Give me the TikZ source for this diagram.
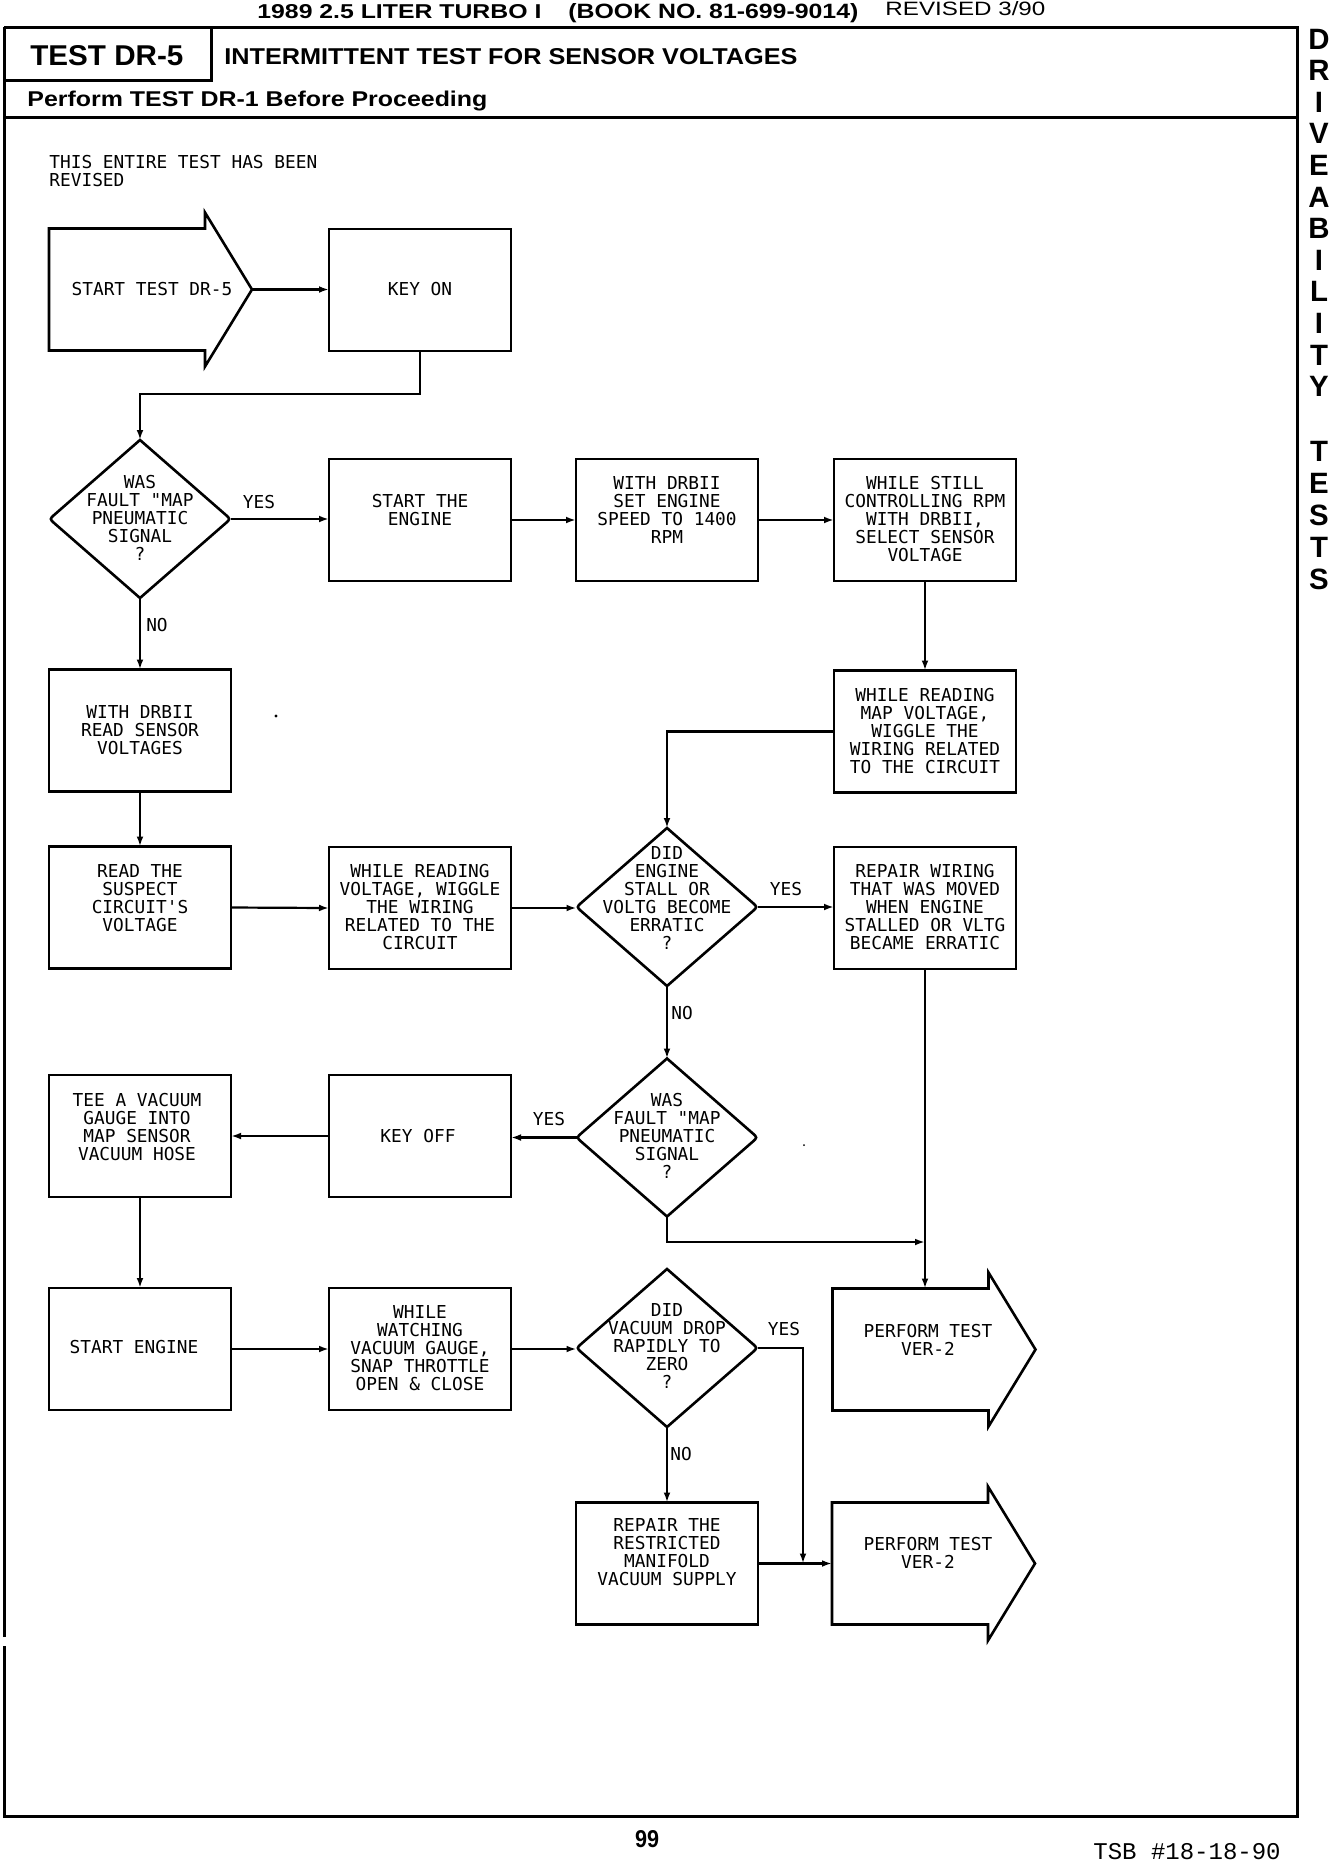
\documentclass[tikz,border=0pt]{standalone}
\usepackage{fontspec}
\usepackage{graphicx}
\usetikzlibrary{arrows.meta,calc,shapes.geometric}
\newfontfamily\plotfont{DejaVu Sans Mono}
\newfontfamily\helfont{Liberation Sans}
\newfontfamily\courfont{Liberation Mono}
\newlength\pxu \setlength\pxu{0.5pt}
\newcommand\diaborder[1]{\draw[boxline] (#1.north) -- ($(#1.east)!0.06!(#1.north)$) .. controls (#1.east) .. ($(#1.east)!0.06!(#1.south)$) -- (#1.south) -- ($(#1.west)!0.06!(#1.south)$) .. controls (#1.west) .. ($(#1.west)!0.06!(#1.north)$) -- cycle;}
\newcommand\arrowborder[1]{\draw[boxline] (#1.south west) -- (#1.north west) -- (#1.north east) -- ++(0,-16) -- ($(#1.east)+(47,0)$) -- ($(#1.south east)+(0,16)$) -- (#1.south east) -- cycle;}
\begin{document}
\begin{tikzpicture}[x=0.5pt,y=-0.5pt,
  boxline/.style={line width=1.3pt, line join=miter},
  fbox/.style={draw, boxline, minimum width=91pt, minimum height=61pt, inner sep=0pt, outer sep=0pt},
  abody/.style={minimum width=78pt, minimum height=61pt, inner sep=0pt, outer sep=0pt},
  dia/.style={diamond, minimum width=90.5pt, minimum height=79pt, inner sep=0pt, outer sep=0pt},
  txt/.style={font=\plotfont\fontsize{8.9}{9}\selectfont, align=center, inner sep=0pt},
  conn/.style={line width=1.1pt, -{Latex[length=5pt,width=3.4pt]}},
  frame/.style={line width=1.5pt},
  side/.style={font=\helfont\bfseries\fontsize{14.7}{15}\selectfont, inner sep=0pt, anchor=center}]
\useasboundingbox (0,0) rectangle (1344,1864);
\fill[white] (0,0) rectangle (1344,1864);

% ---------- frame and header ----------
\draw[frame] (4,27) -- (1297,27) -- (1297,1816) -- (4,1816) -- (4,1646);
\draw[frame] (4,1637) -- (4,27);
\draw[frame] (211,27) -- (211,80) -- (4,80);
\draw[frame] (4,117) -- (1297,117);

\node[anchor=base west, inner sep=0pt] (h1) at (257,18) {\resizebox{284\pxu}{14\pxu}{\helfont\bfseries 1989 2.5 LITER TURBO I}};
\node[anchor=base west, inner sep=0pt] (h2) at (568,18) {\resizebox{290\pxu}{15\pxu}{\helfont\bfseries (BOOK NO. 81-699-9014)}};
\node[anchor=base west, inner sep=0pt] (h3) at (885,15) {\resizebox{160\pxu}{14\pxu}{\helfont REVISED 3/90}};
\node[anchor=base west, inner sep=0pt] (title) at (30,65) {\resizebox{153\pxu}{20\pxu}{\helfont\bfseries TEST DR-5}};
\node[anchor=base west, inner sep=0pt] (subtitle) at (224,64) {\resizebox{573\pxu}{16\pxu}{\helfont\bfseries INTERMITTENT TEST FOR SENSOR VOLTAGES}};
\node[anchor=base west, inner sep=0pt] (perform) at (27,106) {\resizebox{460\pxu}{15.5\pxu}{\helfont\bfseries Perform TEST DR-1 Before Proceeding}};

\foreach \l [count=\i from 0] in {D,R,I,V,E,A,B,I,L,I,T,Y}
  \node[side] (s\i) at (1319,39+31.6*\i) {\l};
\foreach \l [count=\i from 0] in {T,E,S,T,S}
  \node[side] (t\i) at (1319,451+32.2*\i) {\l};

\node[txt, anchor=west, align=left] (note) at (49,171) {THIS ENTIRE TEST HAS BEEN\\REVISED};

% ---------- nodes ----------
\node[abody] (start) at (127,289.5) {};
\coordinate (starttip) at ($(start.east)+(47,0)$);
\arrowborder{start}
\node[txt] (tstart) at (152,289) {START TEST DR-5};

\node[fbox] (keyon) at (420,290) {};
\node[txt] (tkeyon) at (420,289) {KEY ON};

\node[dia] (d1) at (140,519) {};
\diaborder{d1}
\node[txt] (td1) at (140,518) {WAS\\FAULT "MAP\\PNEUMATIC\\SIGNAL\\?};

\node[fbox] (eng) at (420,520) {};
\node[txt] (teng) at (420,510.5) {START THE\\ENGINE};

\node[fbox] (drb) at (667,520) {};
\node[txt] (tdrb) at (667,510) {WITH DRBII\\SET ENGINE\\SPEED TO 1400\\RPM};

\node[fbox] (still) at (925,520) {};
\node[txt] (tstill) at (925,519) {WHILE STILL\\CONTROLLING RPM\\WITH DRBII,\\SELECT SENSOR\\VOLTAGE};

\node[fbox] (readmap) at (925,731.5) {};
\node[txt] (treadmap) at (925,731) {WHILE READING\\MAP VOLTAGE,\\WIGGLE THE\\WIRING RELATED\\TO THE CIRCUIT};

\node[fbox] (readsens) at (140,730.5) {};
\node[txt] (treadsens) at (140,730) {WITH DRBII\\READ SENSOR\\VOLTAGES};

\node[fbox] (readsusp) at (140,907.5) {};
\node[txt] (treadsusp) at (140,898.5) {READ THE\\SUSPECT\\CIRCUIT'S\\VOLTAGE};

\node[fbox] (wiggle) at (420,908) {};
\node[txt] (twiggle) at (420,907) {WHILE READING\\VOLTAGE, WIGGLE\\THE WIRING\\RELATED TO THE\\CIRCUIT};

\node[dia] (d2) at (667,907) {};
\diaborder{d2}
\node[txt] (td2) at (667,897.5) {DID\\ENGINE\\STALL OR\\VOLTG BECOME\\ERRATIC\\?};

\node[fbox] (repair) at (925,908) {};
\node[txt] (trepair) at (925,907) {REPAIR WIRING\\THAT WAS MOVED\\WHEN ENGINE\\STALLED OR VLTG\\BECAME ERRATIC};

\node[dia] (d3) at (667,1137.5) {};
\diaborder{d3}
\node[txt] (td3) at (667,1136) {WAS\\FAULT "MAP\\PNEUMATIC\\SIGNAL\\?};

\node[fbox] (keyoff) at (420,1136) {};
\node[txt] (tkeyoff) at (418,1136) {KEY OFF};

\node[fbox] (tee) at (140,1136) {};
\node[txt] (ttee) at (137,1127) {TEE A VACUUM\\GAUGE INTO\\MAP SENSOR\\VACUUM HOSE};

\node[fbox] (starteng) at (140,1349) {};
\node[txt] (tstarteng) at (134,1347) {START ENGINE};

\node[fbox] (watch) at (420,1349) {};
\node[txt] (twatch) at (420,1348) {WHILE\\WATCHING\\VACUUM GAUGE,\\SNAP THROTTLE\\OPEN \& CLOSE};

\node[dia] (d4) at (667,1348) {};
\diaborder{d4}
\node[txt] (td4) at (667,1346) {DID\\VACUUM DROP\\RAPIDLY TO\\ZERO\\?};

\node[fbox] (restrict) at (667,1563.5) {};
\node[txt] (trestrict) at (667,1552) {REPAIR THE\\RESTRICTED\\MANIFOLD\\VACUUM SUPPLY};

\node[abody] (perf1) at (910.5,1349.5) {};
\arrowborder{perf1}
\node[txt] (tperf1) at (928,1340) {PERFORM TEST\\VER-2};

\node[abody] (perf2) at (910,1563.5) {};
\arrowborder{perf2}
\node[txt] (tperf2) at (928,1553) {PERFORM TEST\\VER-2};

% ---------- helper coordinates ----------
\coordinate (j1y) at (0,1242);
\coordinate (j1) at (repair.south |- j1y);
\coordinate (j2x) at (803,0);
\coordinate (j2) at (restrict.east -| j2x);

% ---------- connectors ----------
\draw[conn] (starttip) -- (starttip -| keyon.west);
\draw[conn] (keyon.south) -- ++(0,43) -| (d1.north);
\draw[conn] (d1.east) -- (d1.east -| eng.west);
\draw[conn] (eng.east) -- (drb.west);
\draw[conn] (drb.east) -- (still.west);
\draw[conn] (still.south) -- (readmap.north);
\draw[conn] (readmap.west) -| (d2.north);
\draw[conn] (d1.south) -- (readsens.north);
\draw[conn] (readsens.south) -- (readsusp.north);
\draw[conn] (readsusp.east) -- (wiggle.west);
\draw[conn] (wiggle.east) -- (wiggle.east -| d2.west);
\draw[conn] (d2.east) -- (d2.east -| repair.west);
\draw[conn] (d2.south) -- (d3.north);
\draw[conn] (d3.west) -- (d3.west -| keyoff.east);
\draw[conn] (keyoff.west) -- (tee.east);
\draw[conn] (tee.south) -- (starteng.north);
\draw[conn] (starteng.east) -- (watch.west);
\draw[conn] (watch.east) -- (watch.east -| d4.west);
\draw[conn] (d4.east) -| (j2);
\draw[conn] (d4.south) -- (restrict.north);
\draw[conn] (restrict.east) -- (perf2.west);
\draw[conn] (repair.south) -- (repair.south |- perf1.north);
\draw[conn] (d3.south) |- (j1);

% ---------- labels ----------
\node[txt] (yes1) at (259,502) {YES};
\node[txt] (no1) at (157,625) {NO};
\node[txt] (yes2) at (786,889) {YES};
\node[txt] (no2) at (682,1013) {NO};
\node[txt] (yes3) at (549,1119) {YES};
\node[txt] (yes4) at (784,1329) {YES};
\node[txt] (no4) at (681,1454) {NO};

% stray specks of the print
\fill (276,716) circle (0.8pt);
\fill (804,1145) circle (0.5pt);

% ---------- footer ----------
\node[anchor=base, inner sep=0pt] (page) at (647,1847) {\resizebox{24\pxu}{17\pxu}{\helfont\bfseries 99}};
\node[anchor=base west, inner sep=0pt, font=\courfont\fontsize{12}{12}\selectfont] (tsb) at (1093,1859) {TSB \#18-18-90};
\end{tikzpicture}
\end{document}
